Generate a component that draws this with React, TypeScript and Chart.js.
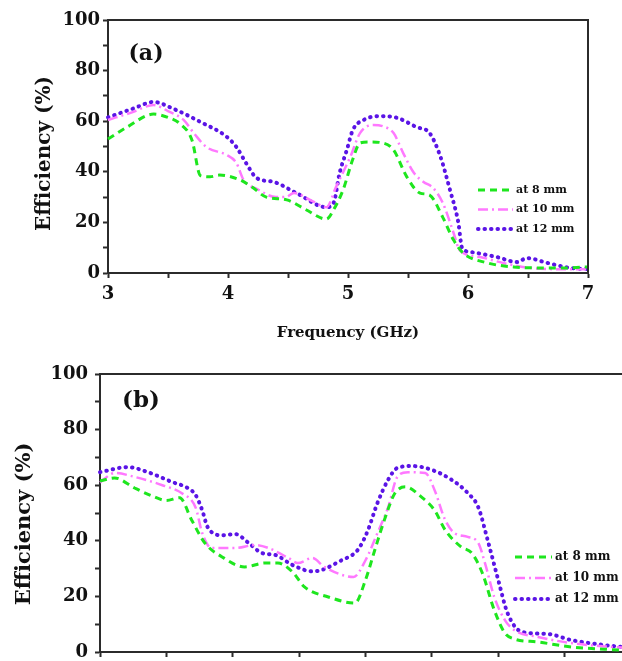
import React, { useEffect, useRef } from 'react';
import { Chart, registerables } from 'chart.js';

Chart.register(...registerables);

const FONT = "'DejaVu Serif', 'Liberation Serif', serif";
const AXIS_COLOR = '#2b2b2b';
const TEXT_COLOR = '#111111';

const seriesLabels = ['at 8 mm', 'at 10 mm', 'at 12 mm'];
const seriesColors = ['#1ee61e', '#ff78ff', '#5a14e6'];
const lineWidths = [3, 2.5, 4];
const lineDashes: number[][] = [[7, 5], [10, 4, 2, 4], [0.5, 6]];
const lineCaps = ['butt', 'butt', 'round'];

const yTickValues = [0, 20, 40, 60, 80, 100];
const xTickValues = [3, 4, 5, 6, 7];

// Panel (a)
const freqA8 = [3.0, 3.16, 3.38, 3.5, 3.6, 3.7, 3.77, 3.85, 3.93, 4.1, 4.2, 4.32, 4.49, 4.65, 4.82, 4.88, 4.96, 5.04, 5.1, 5.18, 5.29, 5.38, 5.49, 5.6, 5.68, 5.79, 5.88, 5.96, 6.16, 6.38, 6.66, 6.8, 7.0];
const effA8 = [53, 57.7, 62.8, 61.5, 59, 52.5, 38.5, 38, 38.7, 36.8, 34, 30, 28.9, 25, 21.3, 25, 33, 45, 51.4, 51.8, 51.4, 48.6, 38, 31.6, 30.8, 22, 13, 7.9, 4, 2.4, 2, 2, 2.4];

const freqA10 = [3.0, 3.2, 3.38, 3.5, 3.63, 3.72, 3.82, 3.99, 4.07, 4.13, 4.25, 4.4, 4.48, 4.55, 4.7, 4.82, 4.9, 5.02, 5.1, 5.21, 5.29, 5.38, 5.46, 5.55, 5.63, 5.71, 5.79, 5.88, 5.93, 6.1, 6.29, 6.52, 6.8, 7.0];
const effA10 = [60.5, 63.5, 66.4, 64, 60.5, 55, 49.8, 46.6, 43.5, 36.8, 33, 30, 30, 31.6, 28.5, 26, 34, 46, 55.3, 58.5, 58, 55.3, 47.4, 39.5, 36, 33.6, 27.7, 15.8, 9, 6.3, 4, 2, 1.5, 1.5];

const freqA12 = [3.0, 3.21, 3.38, 3.54, 3.77, 3.99, 4.07, 4.15, 4.24, 4.38, 4.57, 4.82, 4.88, 4.93, 4.99, 5.04, 5.13, 5.27, 5.41, 5.57, 5.68, 5.77, 5.85, 5.92, 5.95, 6.02, 6.24, 6.41, 6.49, 6.66, 6.85, 7.0];
const effA12 = [61.5, 65, 67.6, 65, 59.7, 53.8, 49.8, 43.5, 37.5, 36, 31.6, 26, 27.7, 39.5, 48.6, 56.5, 60.5, 62, 61.3, 57.7, 55.3, 46, 32.8, 19.8, 10, 8.3, 6.3, 4.3, 5.9, 4, 2, 1.6];

// Panel (b)
const freqB8 = [3.0, 3.11, 3.26, 3.4, 3.5, 3.6, 3.69, 3.79, 3.92, 4.09, 4.24, 4.34, 4.45, 4.54, 4.72, 4.92, 5.0, 5.07, 5.15, 5.22, 5.3, 5.42, 5.52, 5.6, 5.72, 5.8, 5.88, 5.97, 6.05, 6.12, 6.3, 6.55, 6.8, 7.0];
const effB8 = [61.5, 62.6, 59, 56, 54.5, 55.5, 47.5, 39.2, 34.2, 30.6, 32, 32, 28.8, 23.4, 19.8, 17.6, 25.9, 36.7, 48.6, 57, 59.4, 55.8, 51, 43.9, 37.8, 35.6, 28.4, 15.1, 6.8, 4.7, 3.6, 1.8, 1, 0.5];

const freqB10 = [3.0, 3.11, 3.26, 3.47, 3.62, 3.72, 3.77, 3.84, 4.02, 4.17, 4.27, 4.42, 4.49, 4.6, 4.69, 4.91, 5.0, 5.09, 5.17, 5.24, 5.32, 5.45, 5.52, 5.6, 5.67, 5.77, 5.85, 5.9, 5.97, 6.05, 6.12, 6.3, 6.55, 6.8, 7.0];
const effB10 = [61, 64.4, 63, 60, 57, 52, 42.8, 37.4, 37.4, 38.5, 37.4, 33.8, 32, 33.8, 30.6, 27, 33, 42.8, 52, 63, 64.7, 64.4, 58.3, 47.5, 42.8, 41.4, 39.2, 32, 19.8, 11.5, 7.9, 5.4, 3.2, 2, 1.5];

const freqB12 = [3.0, 3.21, 3.36, 3.54, 3.66, 3.72, 3.77, 3.81, 3.92, 4.02, 4.12, 4.22, 4.32, 4.45, 4.6, 4.67, 4.82, 4.92, 4.96, 5.02, 5.09, 5.17, 5.24, 5.35, 5.5, 5.65, 5.77, 5.85, 5.92, 6.0, 6.07, 6.18, 6.37, 6.55, 6.8, 7.0];
const effB12 = [64.7, 66.5, 64.7, 61.2, 59, 56.5, 51, 45, 42, 42.4, 39.2, 35.6, 34.9, 31.3, 29, 29.5, 33, 35.6, 38, 44, 53.6, 61.9, 66.2, 66.9, 65.5, 61.9, 57.2, 52, 40.3, 25.9, 14, 7.2, 6.5, 4.3, 2.5, 1.5];

type Series = { f: number[]; v: number[] };

type PanelSpec = {
  width: number;
  height: number;
  cssTop: number;
  yAxisWidth: number;
  xAxisHeight: number;
  padTop: number;
  padRight: number;
  yTickPad: number;
  yTitle: string;
  yTitleSize: number;
  yTitlePad: number;
  xTitle: string;
  label: string;
  labelSize: number;
  labelX: number;
  labelY: number;
  legendX: number;
  legendY: number;
  legendRowH: number;
  legendLen: number;
  legendSize: number;
  series: Series[];
};

const framePlugin = {
  id: 'frame',
  afterDatasetsDraw(chart: any, _args: any, opts: any) {
    const { ctx, chartArea: a } = chart;
    ctx.save();
    ctx.strokeStyle = AXIS_COLOR;
    ctx.lineWidth = 2;
    ctx.setLineDash([]);
    ctx.beginPath();
    ctx.moveTo(a.left, a.top);
    ctx.lineTo(a.right, a.top);
    ctx.lineTo(a.right, a.bottom);
    ctx.stroke();

    ctx.fillStyle = TEXT_COLOR;
    ctx.font = `bold ${opts.labelSize}px ${FONT}`;
    ctx.textAlign = 'center';
    ctx.textBaseline = 'middle';
    ctx.fillText(opts.label, opts.labelX, opts.labelY);

    chart.data.datasets.forEach((ds: any, i: number) => {
      const y = opts.legendY + i * opts.legendRowH;
      ctx.save();
      ctx.strokeStyle = ds.borderColor;
      ctx.lineWidth = ds.borderWidth;
      ctx.setLineDash(ds.borderDash);
      ctx.lineCap = ds.borderCapStyle;
      ctx.beginPath();
      ctx.moveTo(opts.legendX, y);
      ctx.lineTo(opts.legendX + opts.legendLen, y);
      ctx.stroke();
      ctx.restore();
      ctx.fillStyle = TEXT_COLOR;
      ctx.font = `bold ${opts.legendSize}px ${FONT}`;
      ctx.textAlign = 'left';
      ctx.textBaseline = 'middle';
      ctx.fillText(ds.label, opts.legendX + opts.legendLen + 3, y);
    });
    ctx.restore();
  },
};

function buildConfig(p: PanelSpec): any {
  const datasets = p.series.map((s, i) => ({
    label: seriesLabels[i],
    data: s.f.map((f, k) => ({ x: f, y: s.v[k] })),
    borderColor: seriesColors[i],
    backgroundColor: seriesColors[i],
    borderWidth: lineWidths[i],
    borderDash: lineDashes[i],
    borderCapStyle: lineCaps[i],
    pointRadius: 0,
    fill: false,
    cubicInterpolationMode: 'monotone',
    clip: 6,
  }));
  const gridCommon = {
    display: true,
    drawOnChartArea: false,
    drawTicks: true,
    tickLength: 5,
    tickColor: AXIS_COLOR,
    tickWidth: 2,
  };
  return {
    type: 'line',
    data: { datasets },
    options: {
      responsive: false,
      animation: false,
      events: [],
      layout: { padding: { top: p.padTop, right: p.padRight, left: 0, bottom: 0 } },
      plugins: {
        legend: { display: false },
        tooltip: { enabled: false },
        frame: {
          label: p.label,
          labelSize: p.labelSize,
          labelX: p.labelX,
          labelY: p.labelY,
          legendX: p.legendX,
          legendY: p.legendY,
          legendRowH: p.legendRowH,
          legendLen: p.legendLen,
          legendSize: p.legendSize,
        },
      },
      scales: {
        x: {
          type: 'linear',
          min: xTickValues[0],
          max: xTickValues[xTickValues.length - 1],
          border: { color: AXIS_COLOR, width: 2 },
          grid: gridCommon,
          ticks: {
            stepSize: 0.5,
            autoSkip: false,
            maxRotation: 0,
            padding: 6,
            color: TEXT_COLOR,
            font: { family: FONT, size: 18, weight: 'bold' },
            callback: (v: number) => (xTickValues.includes(v) ? String(v) : ''),
          },
          title: {
            display: p.xTitle !== '',
            text: p.xTitle,
            color: TEXT_COLOR,
            font: { family: FONT, size: 15, weight: 'bold' },
            padding: { top: 0, bottom: 3 },
          },
          afterFit: (s: any) => {
            s.height = p.xAxisHeight;
          },
        },
        y: {
          type: 'linear',
          min: yTickValues[0],
          max: yTickValues[yTickValues.length - 1],
          border: { color: AXIS_COLOR, width: 2 },
          grid: gridCommon,
          ticks: {
            stepSize: 10,
            autoSkip: false,
            padding: p.yTickPad,
            color: TEXT_COLOR,
            font: { family: FONT, size: 18, weight: 'bold' },
            callback: (v: number) => (yTickValues.includes(v) ? String(v) : ''),
          },
          title: {
            display: true,
            text: p.yTitle,
            color: TEXT_COLOR,
            font: { family: FONT, size: p.yTitleSize, weight: 'bold' },
            padding: { top: p.yTitlePad, bottom: 0 },
          },
          afterFit: (s: any) => {
            s.width = p.yAxisWidth;
          },
        },
      },
    },
    plugins: [framePlugin],
  };
}

const panelA: PanelSpec = {
  width: 622,
  height: 345,
  cssTop: 0,
  yAxisWidth: 108,
  xAxisHeight: 72,
  padTop: 20,
  padRight: 34,
  yTickPad: 3,
  yTitle: 'Efficiency (%)  ',
  yTitleSize: 20,
  yTitlePad: 33,
  xTitle: 'Frequency (GHz)',
  label: '(a)',
  labelSize: 22,
  labelX: 146,
  labelY: 54,
  legendX: 478,
  legendY: 190,
  legendRowH: 19.5,
  legendLen: 35,
  legendSize: 11,
  series: [
    { f: freqA8, v: effA8 },
    { f: freqA10, v: effA10 },
    { f: freqA12, v: effA12 },
  ],
};

const panelB: PanelSpec = {
  width: 660,
  height: 330,
  cssTop: 350,
  yAxisWidth: 100,
  xAxisHeight: 28,
  padTop: 24,
  padRight: 29,
  yTickPad: 7,
  yTitle: 'Efficiency (%)   ',
  yTitleSize: 21,
  yTitlePad: 12,
  xTitle: '',
  label: '(b)',
  labelSize: 23,
  labelX: 141,
  labelY: 51,
  legendX: 515,
  legendY: 207,
  legendRowH: 21,
  legendLen: 37,
  legendSize: 12,
  series: [
    { f: freqB8, v: effB8 },
    { f: freqB10, v: effB10 },
    { f: freqB12, v: effB12 },
  ],
};

function Panel({ spec }: { spec: PanelSpec }) {
  const ref = useRef<HTMLCanvasElement | null>(null);
  useEffect(() => {
    if (!ref.current) return;
    const chart = new Chart(ref.current, buildConfig(spec));
    return () => chart.destroy();
  }, [spec]);
  return (
    <canvas
      ref={ref}
      width={spec.width}
      height={spec.height}
      style={{ position: 'absolute', left: 0, top: spec.cssTop, width: spec.width, height: spec.height }}
    />
  );
}

export default function App() {
  return (
    <div
      style={{
        position: 'fixed',
        left: 0,
        top: 0,
        width: 622,
        height: 661,
        overflow: 'hidden',
        background: '#ffffff',
      }}
    >
      <Panel spec={panelA} />
      <Panel spec={panelB} />
    </div>
  );
}
